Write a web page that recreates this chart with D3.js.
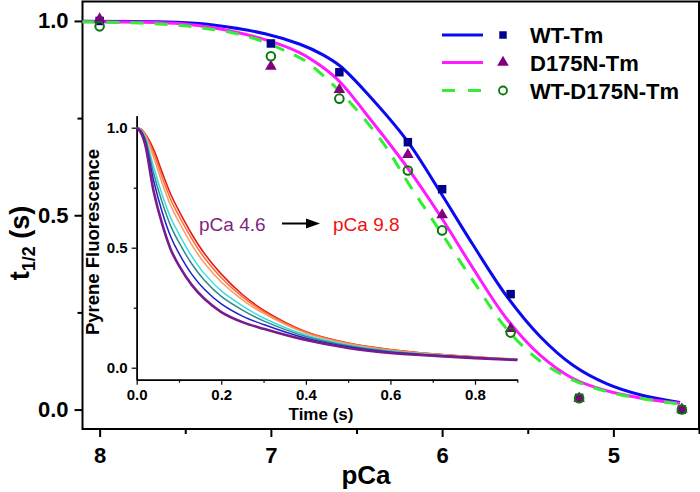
<!DOCTYPE html>
<html><head><meta charset="utf-8">
<script src="https://cdn.jsdelivr.net/npm/d3@7"></script>
<style>body{margin:0;background:#fff}svg{display:block;font-family:"Liberation Sans",Arial,sans-serif}</style>
</head><body><svg id="c" width="700" height="492"></svg>
<script>
// ---- main data (t1/2 vs pCa) ----
const pCa = [8, 7, 6.6, 6.2, 6.0, 5.6, 5.2, 4.6];
const wtTm = [1.0, 0.942, 0.868, 0.688, 0.567, 0.297, 0.03, 0.0];
const d175nTm = [1.005, 0.883, 0.823, 0.656, 0.501, 0.208, 0.029, 0.001];
const wtD175nTm = [0.986, 0.909, 0.800, 0.615, 0.461, 0.198, 0.029, 0.0];
// fitted curves
const fitWtX = [8.1, 7.519, 7.326, 7.034, 6.83, 6.701, 6.596, 6.439, 6.205, 6.013, 5.82, 5.622, 5.428, 5.236, 5.037, 4.844, 4.611];
const fitWtY = [0.999, 0.996, 0.989, 0.967, 0.940, 0.914, 0.884, 0.814, 0.692, 0.561, 0.424, 0.291, 0.188, 0.114, 0.066, 0.038, 0.018];
const fitD175nX = [8.1, 7.519, 7.326, 7.034, 6.83, 6.701, 6.596, 6.439, 6.205, 6.013, 5.82, 5.622, 5.428, 5.236, 5.037, 4.844, 4.611];
const fitD175nY = [0.998, 0.993, 0.982, 0.952, 0.918, 0.882, 0.843, 0.758, 0.624, 0.500, 0.364, 0.233, 0.140, 0.080, 0.048, 0.030, 0.016];
const fitMixX = [8.1, 7.519, 7.128, 6.83, 6.777, 6.579, 6.345, 6.188, 6.013, 5.82, 5.622, 5.428, 5.236, 5.037, 4.844, 4.611];
const fitMixY = [0.998, 0.988, 0.959, 0.905, 0.890, 0.810, 0.686, 0.576, 0.460, 0.332, 0.207, 0.125, 0.076, 0.046, 0.029, 0.014];
const seriesNames = ["WT-Tm", "D175N-Tm", "WT-D175N-Tm"];
const xTicks = [8, 7, 6, 5];
const xMinorTicks = [7.5, 6.5, 5.5, 4.5];
const yTicks = [0.0, 0.5, 1.0];
const yMinorTicks = [0.25, 0.75];

// ---- inset data (pyrene fluorescence transients) ----
const time = [0, 0.01, 0.02, 0.04, 0.06, 0.08, 0.1, 0.13, 0.16, 0.2, 0.25, 0.3, 0.4, 0.5, 0.6, 0.7, 0.8, 0.9];
const trPurple = [1.0, 0.98, 0.93, 0.735, 0.60, 0.495, 0.425, 0.345, 0.287, 0.232, 0.19, 0.162, 0.115, 0.082, 0.061, 0.05, 0.04, 0.032];
const trBlue   = [1.0, 0.985, 0.945, 0.78, 0.65, 0.548, 0.476, 0.39, 0.327, 0.266, 0.215, 0.18, 0.123, 0.087, 0.064, 0.052, 0.041, 0.033];
const trTeal   = [1.0, 0.988, 0.955, 0.81, 0.69, 0.592, 0.522, 0.433, 0.364, 0.297, 0.24, 0.195, 0.13, 0.091, 0.067, 0.053, 0.042, 0.033];
const trCyan   = [1.0, 0.99, 0.962, 0.837, 0.722, 0.627, 0.557, 0.465, 0.392, 0.32, 0.258, 0.207, 0.136, 0.095, 0.07, 0.055, 0.043, 0.034];
const trSalmon = [1.0, 0.993, 0.97, 0.877, 0.77, 0.677, 0.607, 0.513, 0.436, 0.357, 0.283, 0.226, 0.144, 0.1, 0.073, 0.057, 0.044, 0.034];
const trOrange = [1.0, 0.994, 0.972, 0.895, 0.795, 0.702, 0.632, 0.538, 0.458, 0.375, 0.295, 0.234, 0.148, 0.102, 0.075, 0.058, 0.045, 0.035];
const trRed    = [1.0, 0.995, 0.975, 0.91, 0.815, 0.725, 0.653, 0.557, 0.476, 0.39, 0.305, 0.24, 0.15, 0.103, 0.076, 0.058, 0.045, 0.035];
const insetXTicks = [0, 0.2, 0.4, 0.6, 0.8];
const insetXMinor = [0.1, 0.3, 0.5, 0.7, 0.9];
const insetYTicks = [0, 0.5, 1.0];
const insetYMinor = [0.25, 0.75];

const svg = d3.select("#c");
const x = d3.scaleLinear().domain([8.1, 4.5]).range([82.5, 699]);
const y = d3.scaleLinear().domain([-0.05, 1.05]).range([429, 1.5]);

// frame
svg.append("rect").attr("x", 82.5).attr("y", 1.5).attr("width", 699 - 82.5).attr("height", 429 - 1.5)
  .attr("fill", "none").attr("stroke", "#000").attr("stroke-width", 2);

// main axes
const fmt = d3.format(".1f");
const gx = svg.append("g").attr("transform", "translate(0,429)")
  .call(d3.axisBottom(x).tickValues(xTicks).tickFormat(d3.format("d")).tickSize(8).tickSizeOuter(0).tickPadding(10));
const gxm = svg.append("g").attr("transform", "translate(0,429)")
  .call(d3.axisBottom(x).tickValues(xMinorTicks).tickFormat("").tickSize(5).tickSizeOuter(0));
const gy = svg.append("g").attr("transform", "translate(82.5,0)")
  .call(d3.axisLeft(y).tickValues(yTicks).tickFormat(fmt).tickSize(8).tickSizeOuter(0).tickPadding(6));
const gym = svg.append("g").attr("transform", "translate(82.5,0)")
  .call(d3.axisLeft(y).tickValues(yMinorTicks).tickFormat("").tickSize(5).tickSizeOuter(0));
[gx, gxm, gy, gym].forEach(g => {
  g.select(".domain").remove();
  g.selectAll("line").attr("stroke", "#000").attr("stroke-width", 2);
  g.selectAll("text").attr("fill", "#000").attr("font-size", 22).attr("font-weight", "bold")
    .attr("font-family", '"Liberation Sans",Arial,sans-serif');
});

// axis titles
svg.append("text").attr("x", 366).attr("y", 484).attr("text-anchor", "middle")
  .attr("font-size", 26).attr("font-weight", "bold").text("pCa");
const yt = svg.append("text").attr("transform", "translate(29,243) rotate(-90)").attr("text-anchor", "middle")
  .attr("font-size", 27).attr("font-weight", "bold");
yt.append("tspan").text("t");
yt.append("tspan").attr("font-size", 18).attr("dy", 6).text("1/2");
yt.append("tspan").attr("dy", -6).text(" (s)");

// fitted lines
const mline = d3.line().x(d => x(d[0])).y(d => y(d[1])).curve(d3.curveCatmullRom.alpha(0.5));
svg.append("path").datum(d3.zip(fitWtX, fitWtY)).attr("d", mline)
  .attr("fill", "none").attr("stroke", "#0a0af0").attr("stroke-width", 3);
svg.append("path").datum(d3.zip(fitD175nX, fitD175nY)).attr("d", mline)
  .attr("fill", "none").attr("stroke", "#ff1aff").attr("stroke-width", 3);
svg.append("path").datum(d3.zip(fitMixX, fitMixY)).attr("d", mline)
  .attr("fill", "none").attr("stroke", "#33ee33").attr("stroke-width", 3).attr("stroke-dasharray", "13,11");

// markers
const sq = d3.symbol().type(d3.symbolSquare).size(72);
const tri = d3.symbol().type(d3.symbolTriangle).size(58);
svg.append("g").selectAll("path").data(d3.zip(pCa, wtTm)).join("path")
  .attr("d", sq).attr("transform", d => `translate(${x(d[0])},${y(d[1])})`).attr("fill", "#00008b");
svg.append("g").selectAll("path").data(d3.zip(pCa, d175nTm)).join("path")
  .attr("d", tri).attr("transform", d => `translate(${x(d[0])},${y(d[1])})`).attr("fill", "#800080");
svg.append("g").selectAll("circle").data(d3.zip(pCa, wtD175nTm)).join("circle")
  .attr("cx", d => x(d[0])).attr("cy", d => y(d[1])).attr("r", 4.3)
  .attr("fill", "none").attr("stroke", "#0a780a").attr("stroke-width", 2);

// legend
const legRows = [35, 62.5, 90.5];
const leg = svg.append("g");
seriesNames.forEach((name, i) => {
  const ly = legRows[i];
  const ln = leg.append("line").attr("x1", 442).attr("x2", 483).attr("y1", ly).attr("y2", ly).attr("stroke-width", 3);
  if (i === 0) { ln.attr("stroke", "#0a0af0");
    leg.append("path").attr("d", d3.symbol().type(d3.symbolSquare).size(56)).attr("transform", `translate(503,${ly})`).attr("fill", "#00008b"); }
  if (i === 1) { ln.attr("stroke", "#ff1aff");
    leg.append("path").attr("d", tri).attr("transform", `translate(503,${ly})`).attr("fill", "#800080"); }
  if (i === 2) { ln.attr("stroke", "#33ee33").attr("stroke-dasharray", "13,13");
    leg.append("circle").attr("cx", 503).attr("cy", ly).attr("r", 4).attr("fill", "none").attr("stroke", "#0a780a").attr("stroke-width", 1.8); }
  leg.append("text").attr("x", 530).attr("y", ly + 8).attr("font-size", 22).attr("font-weight", "bold").text(name);
});

// ---- inset ----
const ix = d3.scaleLinear().domain([0, 0.9]).range([136.7, 517.3]);
const iy = d3.scaleLinear().domain([-0.05, 1.05]).range([379.7, 115.7]);
const ga = svg.append("g").attr("transform", "translate(0,379.7)")
  .call(d3.axisBottom(ix).tickValues(insetXTicks).tickFormat(fmt).tickSize(5).tickSizeOuter(0).tickPadding(5));
const gam = svg.append("g").attr("transform", "translate(0,379.7)")
  .call(d3.axisBottom(ix).tickValues(insetXMinor).tickFormat("").tickSize(3).tickSizeOuter(0));
const gb = svg.append("g").attr("transform", "translate(136.7,0)")
  .call(d3.axisLeft(iy).tickValues(insetYTicks).tickFormat(fmt).tickSize(5).tickSizeOuter(0).tickPadding(4));
const gbm = svg.append("g").attr("transform", "translate(136.7,0)")
  .call(d3.axisLeft(iy).tickValues(insetYMinor).tickFormat("").tickSize(3).tickSizeOuter(0));
[ga, gam, gb, gbm].forEach(g => {
  g.selectAll(".domain").attr("stroke", "#000").attr("stroke-width", 1.5);
  g.selectAll("line").attr("stroke", "#000").attr("stroke-width", 1.2);
  g.selectAll("text").attr("fill", "#000").attr("font-size", 15).attr("font-weight", "bold")
    .attr("font-family", '"Liberation Sans",Arial,sans-serif');
});
svg.append("text").attr("x", 321).attr("y", 420).attr("text-anchor", "middle")
  .attr("font-size", 17).attr("font-weight", "bold").text("Time (s)");
svg.append("text").attr("transform", "translate(99,242) rotate(-90)").attr("text-anchor", "middle")
  .attr("font-size", 18.5).attr("font-weight", "bold").text("Pyrene Fluorescence");

const transients = [
  {v: trRed, c: "#e41a1c", w: 1.6},
  {v: trOrange, c: "#ff6a2a", w: 1.5},
  {v: trSalmon, c: "#f79a6a", w: 1.5},
  {v: trCyan, c: "#3fdcdc", w: 1.5},
  {v: trTeal, c: "#2e8b8b", w: 1.5},
  {v: trBlue, c: "#1f1fcc", w: 1.5},
  {v: trPurple, c: "#7a1a8c", w: 2.6}
];
const iline = d3.line().x(d => ix(d[0])).y(d => iy(d[1])).curve(d3.curveCatmullRom.alpha(0.5));
transients.forEach(t => {
  svg.append("path").datum(d3.zip(time, t.v)).attr("d", iline)
    .attr("fill", "none").attr("stroke", t.c).attr("stroke-width", t.w);
});

// annotation
svg.append("text").attr("x", 199).attr("y", 231).attr("font-size", 19).attr("fill", "#7f1f7f").text("pCa 4.6");
svg.append("line").attr("x1", 282).attr("x2", 308).attr("y1", 223.5).attr("y2", 223.5).attr("stroke", "#000").attr("stroke-width", 2);
svg.append("path").attr("d", "M306,218.5 L320,223.5 L306,228.5 Z").attr("fill", "#000");
svg.append("text").attr("x", 333).attr("y", 231).attr("font-size", 19).attr("fill", "#ee1111").text("pCa 9.8");
</script></body></html>
